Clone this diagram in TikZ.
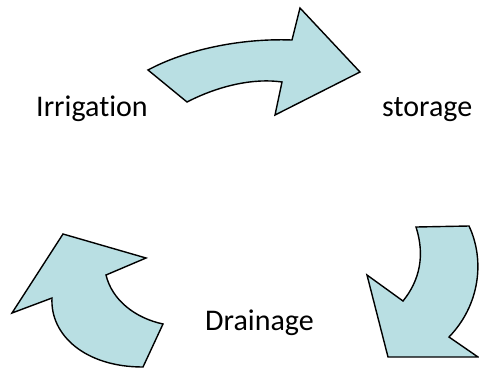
\documentclass[tikz,border=0pt]{standalone}
\usepackage{fontspec}
\setmainfont[Ligatures={NoCommon}]{Carlito}
\definecolor{arrowfill}{RGB}{185,223,227}
\tikzset{
  blockarrow/.style={draw=black, fill=arrowfill, line width=1.4pt, line join=miter},
  label/.style={font=\fontsize{30}{36}\selectfont, inner sep=0pt, anchor=base west}
}
\begin{document}
\begin{tikzpicture}[x=1pt,y=-1pt]
\useasboundingbox (0,0) rectangle (479,368);
\begin{scope}
\clip (0,0) rectangle (479,368);
% top arrow
\path[blockarrow] (148,70) .. controls (185,50) and (240,38) .. (292,40) -- (300,8) -- (360,72) -- (275,115) -- (282,82) .. controls (255,78) and (220,85) .. (187,102) -- cycle;
% right arrow
\path[blockarrow] (416,227) -- (469,226) .. controls (485,260) and (480,305) .. (449,337) -- (478,357) -- (388,357) -- (367,275) -- (403,301) .. controls (420,280) and (425,255) .. (416,227) -- cycle;
% left arrow
\path[blockarrow] (63,234) -- (146,258) -- (106,275) .. controls (112,300) and (135,318) .. (163,324) -- (143,367) .. controls (85,367) and (50,335) .. (52,298) -- (12,313) -- cycle;
\end{scope}
\node[label] (irr) at (36,116.5) {Irrigation};
\node[label] (sto) at (382,116) {storage};
\node[label] (dra) at (205,330) {Drainage};
\end{tikzpicture}
\end{document}
